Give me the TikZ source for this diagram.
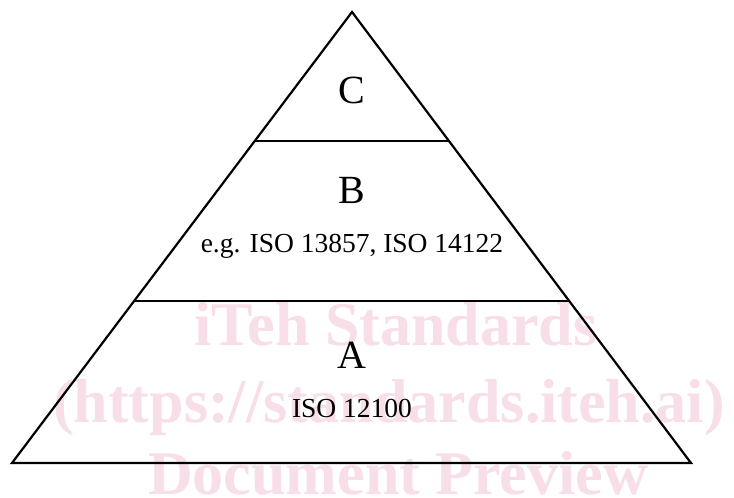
\documentclass[tikz,border=0pt]{standalone}
\usepackage{fontspec}
\setmainfont{Liberation Serif}
\usetikzlibrary{calc}
\definecolor{markpink}{RGB}{248,222,232}

\begin{document}
\begin{tikzpicture}[x=1pt, y=-1pt,
  edge/.style={line width=2.2pt, line join=miter},
  level/.style={anchor=base, inner sep=0pt, font=\fontsize{40}{44}\selectfont},
  note/.style={anchor=base, inner sep=0pt, font=\fontsize{27.5}{32}\selectfont},
  wmark/.style={anchor=base, inner sep=0pt, text=markpink,
                font=\fontsize{62}{66}\selectfont\bfseries}]

  \clip (0,0) rectangle (734,498);
  \fill[white] (0,0) rectangle (734,498);

  % watermark
  \node[wmark] (wm1) at (396,345) {iTeh Standards};
  \node[wmark] (wm2) at (389,422) {(https://standards.iteh.ai)};
  \node[wmark] (wm3) at (398,494) {Document Preview};

  % pyramid
  \coordinate (apex) at (352,12);
  \coordinate (bl)   at (12,463);
  \coordinate (br)   at (691,463);
  \coordinate (cl)   at ($(apex)!0.286!(bl)$);
  \coordinate (cr)   at ($(apex)!0.286!(br)$);
  \coordinate (bbl)  at ($(apex)!0.641!(bl)$);
  \coordinate (bbr)  at ($(apex)!0.641!(br)$);

  \draw[edge] (apex) -- (br) -- (bl) -- cycle;
  \draw[edge] (cl)  -- (cr);
  \draw[edge] (bbl) -- (bbr);

  % labels
  \node[level] (c)    at (352,103) {C};
  \node[level] (b)    at (352,203) {B};
  \node[note]  (bstd) at (352,252) {e.g. ISO 13857, ISO 14122};
  \node[level] (a)    at (352,368) {A};
  \node[note]  (astd) at (352,417) {ISO 12100};
\end{tikzpicture}
\end{document}
